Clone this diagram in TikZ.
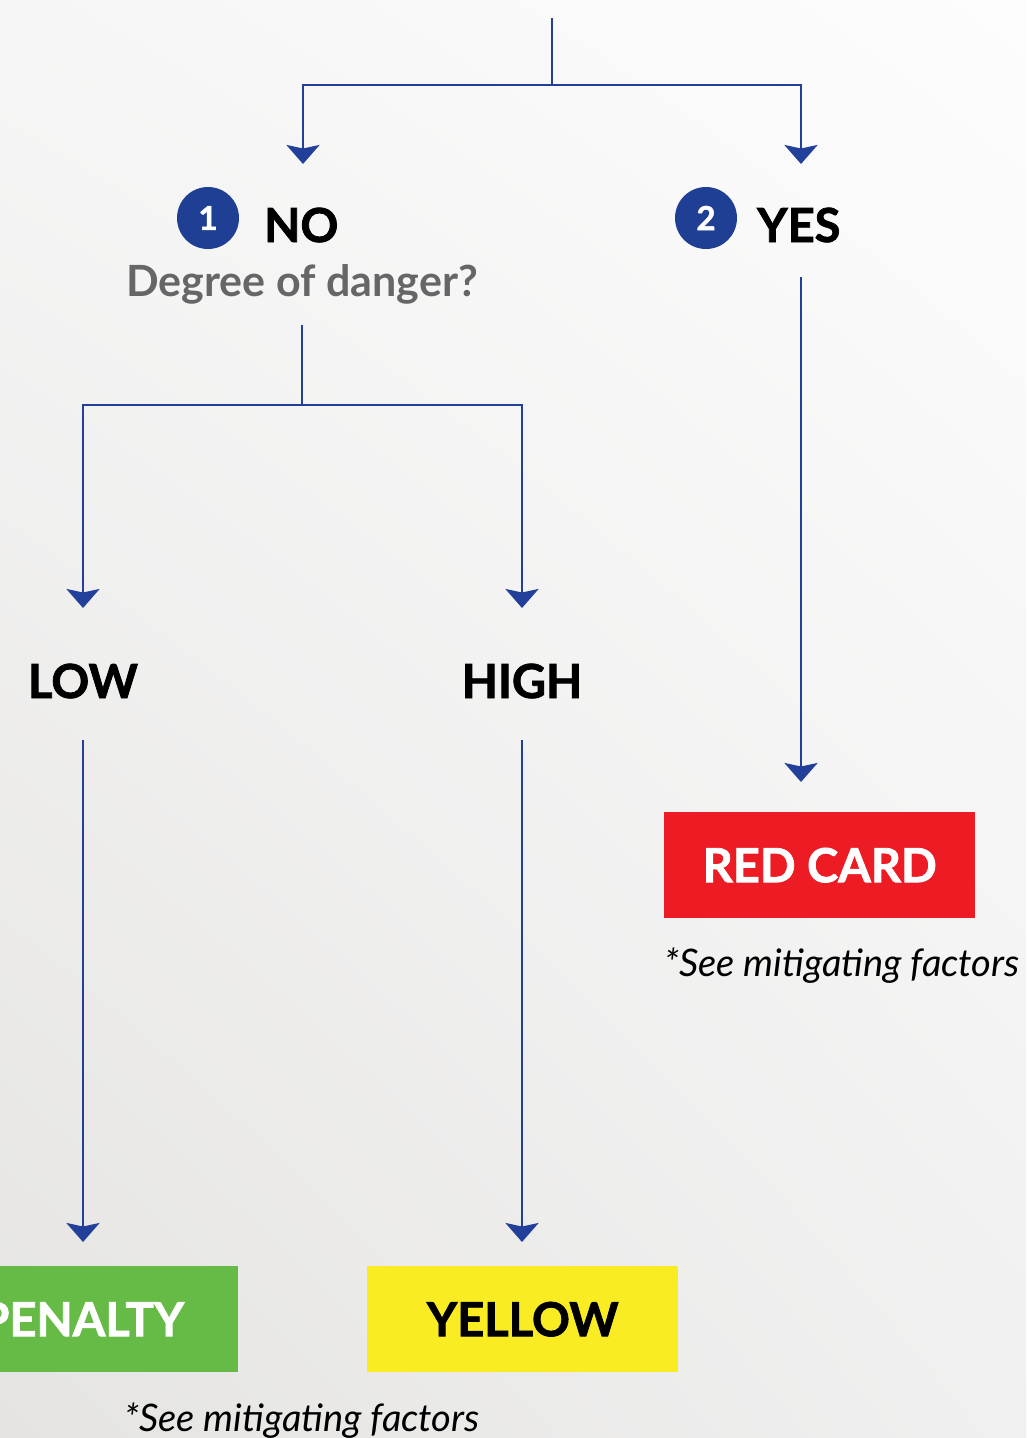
\documentclass[tikz,border=0pt]{standalone}
\usepackage{fontspec}
\setmainfont{Lato}
\newfontfamily\heavyfont{Lato}[BoldFeatures={FakeBold=1.6}]
\usetikzlibrary{arrows.meta,shadings}
\definecolor{lineblue}{HTML}{22409A}
\definecolor{circblue}{HTML}{1F3F94}
\definecolor{dgray}{HTML}{666666}
\definecolor{redc}{HTML}{ED1C24}
\definecolor{greenc}{HTML}{66BB46}
\definecolor{yellowc}{HTML}{F9EC23}
\definecolor{bgul}{RGB}{246,246,246}
\definecolor{bgur}{RGB}{253,253,253}
\definecolor{bgll}{RGB}{229,228,226}
\definecolor{bglr}{RGB}{240,240,240}
\tikzset{
  conn/.style={draw=lineblue, line width=2.8pt},
  arr/.style={conn, -{Stealth[length=19pt,width=33pt,inset=3.5pt]}},
  head/.style={font=\fontsize{47}{47}\heavyfont\bfseries, text=black, inner sep=0pt},
  num/.style={circle, fill=circblue, minimum size=62pt, inner sep=0pt, text=white, font=\fontsize{33}{33}\heavyfont\bfseries},
  card/.style={minimum width=311pt, minimum height=106pt, inner sep=0pt, font=\fontsize{47}{47}\heavyfont\bfseries},
  note/.style={font=\fontsize{38}{38}\selectfont\itshape, text=black, inner sep=0pt},
}
\begin{document}
\begin{tikzpicture}[x=1pt,y=-1pt]
\useasboundingbox (0,0) rectangle (1026,1438);
\clip (0,0) rectangle (1026,1438);
\shade[upper left=bgul, upper right=bgur, lower left=bgll, lower right=bglr]
  (0,0) rectangle (1026,1438);

% junctions and arrow ends
\coordinate (top) at (552,18);
\coordinate (j1) at (552,85);
\coordinate (noin) at (303,164);
\coordinate (yesin) at (801,164);

% level 1
\node[num] (c1) at (208,218) {1};
\node[head, anchor=base west] (no) at (264,242) {NO};
\node[num] (c2) at (706,218) {2};
\node[head, anchor=base west] (yes) at (757,242) {YES};
\node[font=\fontsize{43}{43}\selectfont\bfseries, text=dgray, inner sep=0pt, anchor=base] (dng) at (302,296) {Degree of danger?};

\draw[conn] (top) -- (j1);
\draw[arr] (j1) -| (noin);
\draw[arr] (j1) -| (yesin);

% level 2
\coordinate (dout) at (302,325);
\coordinate (j2) at (302,405);
\coordinate (lowin) at (83,608);
\coordinate (highin) at (522,608);
\draw[conn] (dout) -- (j2);
\draw[arr] (j2) -| (lowin);
\draw[arr] (j2) -| (highin);

\node[head, anchor=base] (low) at (83,698) {LOW};
\node[head, anchor=base] (high) at (522,698) {HIGH};

% yes branch
\coordinate (yout) at (801,277);
\coordinate (redin) at (801,782);
\draw[arr] (yout) -- (redin);

\node[card, fill=redc, text=white, anchor=north west] (red) at (664,812) {RED CARD};
\node[note, anchor=base] (n1) at (842,976) {*See mitigating factors};

% low/high to cards
\coordinate (lowout) at (83,740);
\coordinate (highout) at (522,740);
\coordinate (penin) at (83,1242);
\coordinate (yelin) at (522,1242);
\draw[arr] (lowout) -- (penin);
\draw[arr] (highout) -- (yelin);

\node[card, fill=greenc, text=white, anchor=north east] (pen) at (238,1266) {PENALTY};
\node[card, fill=yellowc, text=black, anchor=north west] (yel) at (367,1266) {YELLOW};
\node[note, anchor=base] (n2) at (302,1431) {*See mitigating factors};
\end{tikzpicture}
\end{document}
